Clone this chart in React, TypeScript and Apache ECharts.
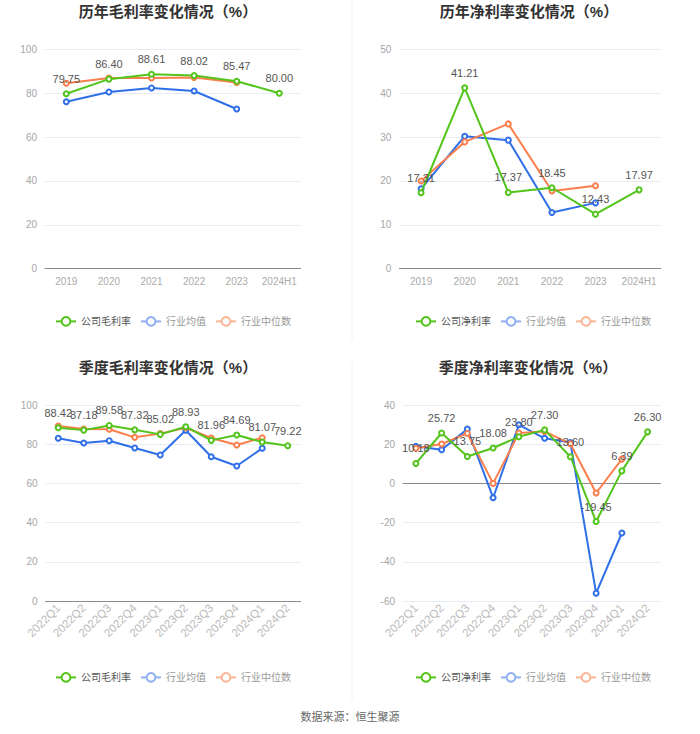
import React, { useEffect, useRef } from 'react';
import * as echarts from 'echarts';

const yearCats = ['2019', '2020', '2021', '2022', '2023', '2024H1'];
const quarterCats = ['2022Q1', '2022Q2', '2022Q3', '2022Q4', '2023Q1', '2023Q2', '2023Q3', '2023Q4', '2024Q1', '2024Q2'];

const annualGrossCompany = [79.75, 86.4, 88.61, 88.02, 85.47, 80.0];
const annualGrossMean = [76.1, 80.5, 82.4, 81.0, 72.8, null];
const annualGrossMedian = [84.5, 86.9, 86.9, 87.2, 84.9, null];

const annualNetCompany = [17.31, 41.21, 17.37, 18.45, 12.43, 17.97];
const annualNetMean = [18.2, 30.2, 29.3, 12.8, 15.0, null];
const annualNetMedian = [20.0, 28.9, 33.0, 17.7, 18.9, null];

const qGrossCompany = [88.42, 87.18, 89.58, 87.32, 85.02, 88.93, 81.96, 84.69, 81.07, 79.22];
const qGrossMean = [83.0, 80.6, 81.8, 78.1, 74.5, 87.1, 73.6, 68.9, 77.9, null];
const qGrossMedian = [89.3, 87.8, 87.6, 83.5, 85.4, 88.4, 83.2, 79.6, 83.3, null];

const qNetCompany = [10.18, 25.72, 13.75, 18.08, 23.8, 27.3, 13.6, -19.45, 6.39, 26.3];
const qNetMean = [18.9, 17.2, 27.7, -7.3, 29.9, 23.0, 20.9, -56.0, -25.3, null];
const qNetMedian = [17.9, 20.1, 25.5, 0.0, 25.7, 26.5, 20.2, -4.9, 12.4, null];

const titles = ['历年毛利率变化情况（%）', '历年净利率变化情况（%）', '季度毛利率变化情况（%）', '季度净利率变化情况（%）'];
const grossNames = ['公司毛利率', '行业均值', '行业中位数'];
const netNames = ['公司净利率', '行业均值', '行业中位数'];
const sourceText = '数据来源：恒生聚源';

const GREEN = '#52c41a';
const BLUE = '#2f6fe8';
const ORANGE = '#fa7f4c';
const BLUE_L = '#8fb0f3';
const ORANGE_L = '#fbb597';
const FONT = '"Liberation Sans", "Noto Sans CJK SC", sans-serif';

export default function App() {
  const ref = useRef<HTMLDivElement>(null);
  useEffect(() => {
    document.body.style.margin = '0';
    const chart = echarts.init(ref.current!, null, { renderer: 'svg' });

    const grids = [
      { left: 45, top: 49.3, width: 255.6, height: 219.4 },
      { left: 399.3, top: 49.3, width: 261.6, height: 219.4 },
      { left: 45.5, top: 405, width: 255, height: 196 },
      { left: 403, top: 405, width: 257.5, height: 196 },
    ];
    const yRanges = [
      { min: 0, max: 100, interval: 20 },
      { min: 0, max: 50, interval: 10 },
      { min: 0, max: 100, interval: 20 },
      { min: -60, max: 40, interval: 20 },
    ];
    const cats = [yearCats, yearCats, quarterCats, quarterCats];
    const data = [
      [annualGrossCompany, annualGrossMean, annualGrossMedian],
      [annualNetCompany, annualNetMean, annualNetMedian],
      [qGrossCompany, qGrossMean, qGrossMedian],
      [qNetCompany, qNetMean, qNetMedian],
    ];
    const names = [grossNames, netNames, grossNames, netNames];
    const colors = [GREEN, BLUE, ORANGE];

    const xAxis = cats.map((c, i) => ({
      type: 'category',
      gridIndex: i,
      data: c,
      boundaryGap: true,
      axisLine: { lineStyle: { color: '#8c8c8c' }, onZero: true },
      axisTick: { alignWithLabel: true, length: 4, lineStyle: { color: '#8c8c8c' } },
      axisLabel: {
        color: i >= 2 ? '#bbb' : '#aaa',
        fontSize: i >= 2 ? 11.5 : 10,
        fontFamily: FONT,
        rotate: i >= 2 ? 45 : 0,
        interval: 0,
        margin: i >= 2 ? 5 : 8,
      },
    }));
    const yAxis = yRanges.map((r, i) => ({
      type: 'value',
      gridIndex: i,
      min: r.min,
      max: r.max,
      interval: r.interval,
      axisLine: { show: false },
      axisTick: { show: false },
      axisLabel: { color: '#a6a6a6', fontSize: 10, fontFamily: FONT, margin: 8 },
      splitLine: { lineStyle: { color: '#e6ebf5' } },
    }));

    const series: any[] = [];
    data.forEach((group, gi) => {
      group.forEach((vals, si) => {
        series.push({
          type: 'line',
          name: names[gi][si],
          xAxisIndex: gi,
          yAxisIndex: gi,
          data: vals,
          symbol: 'emptyCircle',
          symbolSize: 5,
          lineStyle: { width: 2, color: colors[si] },
          itemStyle: { color: colors[si], borderWidth: 1.5 },
          z: si === 0 ? 3 : 2,
          label: si === 0
            ? {
                show: true,
                position: 'top',
                distance: 6,
                color: '#555',
                fontSize: 11,
                fontFamily: FONT,
                formatter: (p: any) => Number(p.value).toFixed(2),
              }
            : { show: false },
        });
      });
    });

    const legendLefts = [
      { left: 55, top: 316 },
      { left: 415, top: 316 },
      { left: 55, top: 672 },
      { left: 415, top: 672 },
    ];
    const legend = legendLefts.map((pos, i) => ({
      left: pos.left,
      top: pos.top,
      padding: 0,
      itemWidth: 20,
      itemHeight: 11,
      itemGap: 9,
      textStyle: { fontSize: 10, fontFamily: FONT, color: '#555' },
      data: [
        { name: names[i][0], textStyle: { color: '#555' } },
        {
          name: names[i][1],
          textStyle: { color: '#999' },
          itemStyle: { color: BLUE_L, borderColor: BLUE_L },
          lineStyle: { color: BLUE_L },
        },
        {
          name: names[i][2],
          textStyle: { color: '#999' },
          itemStyle: { color: ORANGE_L, borderColor: ORANGE_L },
          lineStyle: { color: ORANGE_L },
        },
      ],
    }));

    const titlePos = [
      { x: 168, y: 11 },
      { x: 529, y: 11 },
      { x: 168, y: 367 },
      { x: 528, y: 367 },
    ];
    const graphic: any[] = titlePos.map((p, i) => ({
      type: 'text',
      x: p.x,
      y: p.y,
      style: {
        text: titles[i],
        fill: '#333',
        fontSize: 15,
        fontWeight: 'bold',
        fontFamily: FONT,
        textAlign: 'center',
        textVerticalAlign: 'middle',
      },
    }));
    graphic.push(
      { type: 'line', shape: { x1: 352, y1: 0, x2: 352, y2: 340 }, style: { stroke: '#f0f0f0', lineWidth: 1 } },
      { type: 'line', shape: { x1: 352, y1: 362, x2: 352, y2: 700 }, style: { stroke: '#f0f0f0', lineWidth: 1 } },
      {
        type: 'text',
        x: 350,
        y: 717,
        style: {
          text: sourceText,
          fill: '#666',
          fontSize: 11,
          fontFamily: FONT,
          textAlign: 'center',
          textVerticalAlign: 'middle',
        },
      }
    );

    chart.setOption({
      animation: false,
      backgroundColor: '#fff',
      grid: grids,
      xAxis,
      yAxis,
      legend,
      series,
      graphic,
    });
    return () => chart.dispose();
  }, []);
  return <div ref={ref} style={{ position: 'absolute', left: 0, top: 0, width: 700, height: 734 }} />;
}
